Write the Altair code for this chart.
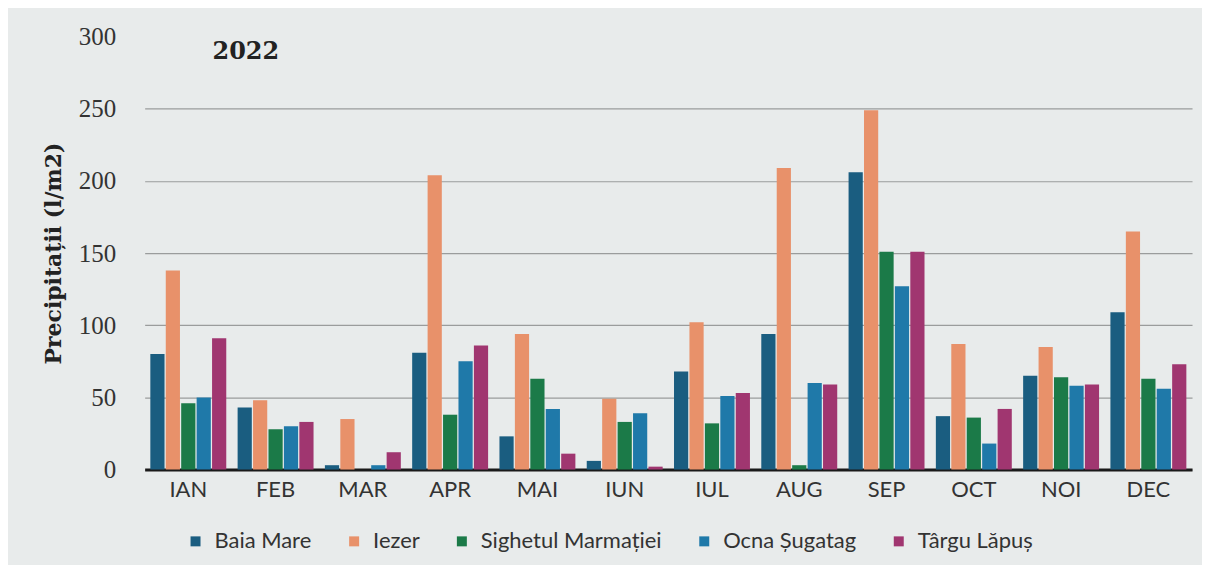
import altair as alt
import pandas as pd

months = ["IAN", "FEB", "MAR", "APR", "MAI", "IUN", "IUL", "AUG", "SEP", "OCT", "NOI", "DEC"]
stations = ["Baia Mare", "Iezer", "Sighetul Marmației", "Ocna Șugatag", "Târgu Lăpuș"]
colors = ["#1a5d80", "#e8916a", "#1b7a48", "#1f79a9", "#a03670"]

baia_mare = [80, 43, 3, 81, 23, 6, 68, 94, 206, 37, 65, 109]
iezer = [138, 48, 35, 204, 94, 49, 102, 209, 249, 87, 85, 165]
sighet = [46, 28, 0, 38, 63, 33, 32, 3, 151, 36, 64, 63]
ocna = [50, 30, 3, 75, 42, 39, 51, 60, 127, 18, 58, 56]
targu = [91, 33, 12, 86, 11, 2, 53, 59, 151, 42, 59, 73]

series = [baia_mare, iezer, sighet, ocna, targu]
rows = []
for s, vals in zip(stations, series):
    for m, v in zip(months, vals):
        rows.append({"luna": m, "statie": s, "val": v})
df = pd.DataFrame(rows)

bars = alt.Chart(df).mark_bar().encode(
    x=alt.X("luna:N", sort=months, title=None,
            scale=alt.Scale(paddingInner=0.13, paddingOuter=0.065),
            axis=alt.Axis(labelAngle=0, labelFont="Lato", labelFontSize=22,
                          labelColor="#333333", labelPadding=10, ticks=False,
                          domainColor="#1a1a1a", domainWidth=3)),
    xOffset=alt.XOffset("statie:N", sort=stations,
                        scale=alt.Scale(paddingInner=0.08)),
    y=alt.Y("val:Q", title="Precipitații (l/m2)",
            scale=alt.Scale(domain=[0, 300], nice=False),
            axis=alt.Axis(values=[0, 50, 100, 150, 200, 250, 300],
                          labelFont="Liberation Serif", labelFontSize=25,
                          labelColor="#333333", labelPadding=29,
                          ticks=False, domain=False,
                          gridColor="#9a9c9c", gridWidth=1.2,
                          gridOpacity={"condition": {"test": "datum.value == 300", "value": 0}, "value": 1},
                          titleFont="DejaVu Serif", titleFontSize=22,
                          titleFontWeight="bold", titleColor="#222222",
                          titlePadding=13)),
    color=alt.Color("statie:N", sort=stations,
                    scale=alt.Scale(domain=stations, range=colors),
                    legend=alt.Legend(title=None, orient="none", direction="horizontal",
                                      legendX=40, legendY=495,
                                      symbolType="square", symbolSize=100,
                                      symbolStrokeWidth=0,
                                      labelFont="Lato", labelFontSize=22,
                                      labelColor="#333333", columnPadding=31,
                                      labelOffset=8, labelLimit=300)),
)

title = alt.Chart(pd.DataFrame({"t": ["2022"]})).mark_text(
    font="DejaVu Serif", fontSize=24, fontWeight="bold", color="#222222",
    align="left", baseline="middle"
).encode(x=alt.value(68), y=alt.value(15), text="t:N")

chart = alt.layer(bars, title).properties(
    width=1050, height=434,
    background="#e8ebeb",
    padding={"left": 137, "top": 28, "right": 10, "bottom": 95},
    autosize=alt.AutoSizeParams(type="none"),
).configure_view(stroke=None)

chart.save("out.html", embed_options={"renderer": "svg", "actions": False})
